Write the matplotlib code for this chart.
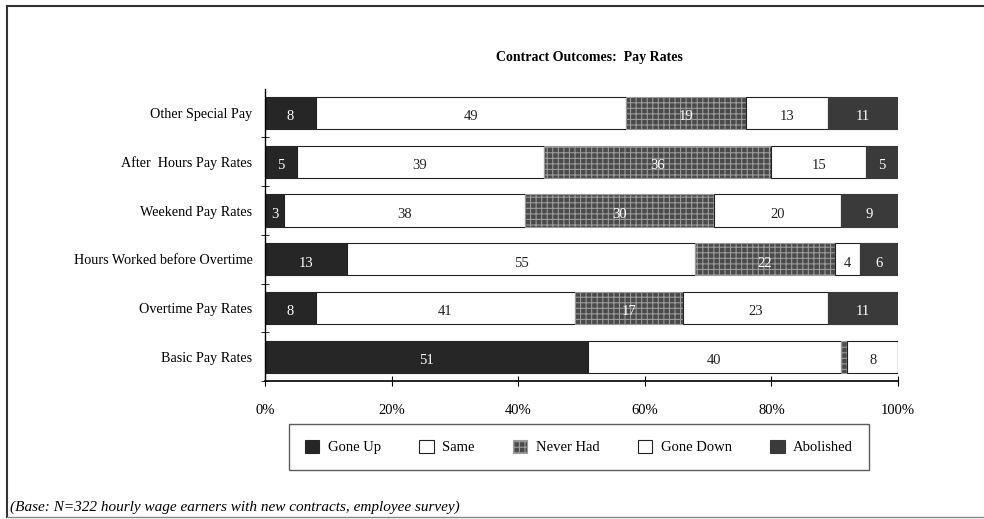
import matplotlib.pyplot as plt
from matplotlib.lines import Line2D
from matplotlib.patches import Patch

categories = ["Other Special Pay", "After  Hours Pay Rates", "Weekend Pay Rates",
              "Hours Worked before Overtime", "Overtime Pay Rates", "Basic Pay Rates"]
gone_up = [8, 5, 3, 13, 8, 51]
same = [49, 39, 38, 55, 41, 40]
never_had = [19, 36, 30, 22, 17, 1]
gone_down = [13, 15, 20, 4, 23, 8]
abolished = [11, 5, 9, 6, 11, 0]
series_names = ["Gone Up", "Same", "Never Had", "Gone Down", "Abolished"]
xticks = [0, 20, 40, 60, 80, 100]

plt.rcParams['font.family'] = ['Liberation Serif', 'DejaVu Serif']
plt.rcParams['hatch.linewidth'] = 0.8

fig = plt.figure(figsize=(9.84, 5.19), dpi=100)
ax = fig.add_axes([265 / 984, 0.2665, 633 / 984, 0.5627])

styles = [
    dict(color="#262626", hatch=None, edge="#262626", text="white"),
    dict(color="white", hatch=None, edge="#222222", text="#222222"),
    dict(color="#4a4a4a", hatch="+++", edge="#9a9a9a", text="white"),
    dict(color="white", hatch=None, edge="#222222", text="#222222"),
    dict(color="#3a3a3a", hatch=None, edge="#3a3a3a", text="white"),
]

ypos = list(range(len(categories)))[::-1]
left = [0] * len(categories)
for vals, st in zip([gone_up, same, never_had, gone_down, abolished], styles):
    bars = ax.barh(ypos, vals, left=left, height=0.66, color=st["color"],
                   edgecolor=st["edge"], hatch=st["hatch"], linewidth=0.8)
    for b, v, l, y in zip(bars, vals, left, ypos):
        if v >= 3:
            ax.text(l + v / 2, y - 0.08, str(v), ha="center", va="center",
                    fontsize=10.5, color=st["text"])
    left = [a + b for a, b in zip(left, vals)]

ax.set_xlim(0, 100)
ax.set_ylim(-0.49, 5.5)
ax.set_yticks(ypos)
ax.set_yticklabels(categories, fontsize=10.2)
ax.set_yticks([i + 0.5 for i in range(len(categories) - 1)] + [-0.49], minor=True)
ax.tick_params(axis="y", which="major", length=0, pad=9)
ax.tick_params(axis="y", which="minor", length=6, direction="inout")
ax.set_xticks(xticks)
ax.set_xticklabels([f"{t}%" for t in xticks], fontsize=10.5)
ax.tick_params(axis="x", length=7, direction="inout", pad=13)
for s in ["top", "right"]:
    ax.spines[s].set_visible(False)
ax.spines["left"].set_linewidth(1.0)
ax.spines["bottom"].set_linewidth(1.2)

fig.text(589 / 984, 1 - 57 / 519, "Contract Outcomes:  Pay Rates", ha="center",
         va="center", fontsize=10, fontweight="bold")

handles = [Patch(facecolor=st["color"], edgecolor="#222222" if st["color"] == "white" else st["edge"],
                 hatch=st["hatch"], linewidth=0.8) for st in styles]
leg = fig.legend(handles, series_names, loc="center", bbox_to_anchor=(579 / 984, 1 - 447 / 519),
                 ncol=5, frameon=True, fancybox=False, fontsize=10.5, handlelength=1.0,
                 handleheight=1.0, columnspacing=2.6, borderpad=1.1, handletextpad=0.6,
                 borderaxespad=0)
leg.get_frame().set_edgecolor("#333333")
leg.get_frame().set_linewidth(1.0)

fig.text(10 / 984, 1 - 507 / 519,
         "(Base: N=322 hourly wage earners with new contracts, employee survey)",
         ha="left", va="center", fontsize=11, style="italic")

# outer frame
fig.add_artist(Line2D([7 / 984, 7 / 984], [1 - 6 / 519, 1 - 517 / 519], color="#333333", lw=1.5))
fig.add_artist(Line2D([7 / 984, 1.0], [1 - 6 / 519, 1 - 6 / 519], color="#333333", lw=1.5))
fig.add_artist(Line2D([7 / 984, 1.0], [1 - 517 / 519, 1 - 517 / 519], color="#888888", lw=1.0))

fig.savefig("out.png", dpi=100)
